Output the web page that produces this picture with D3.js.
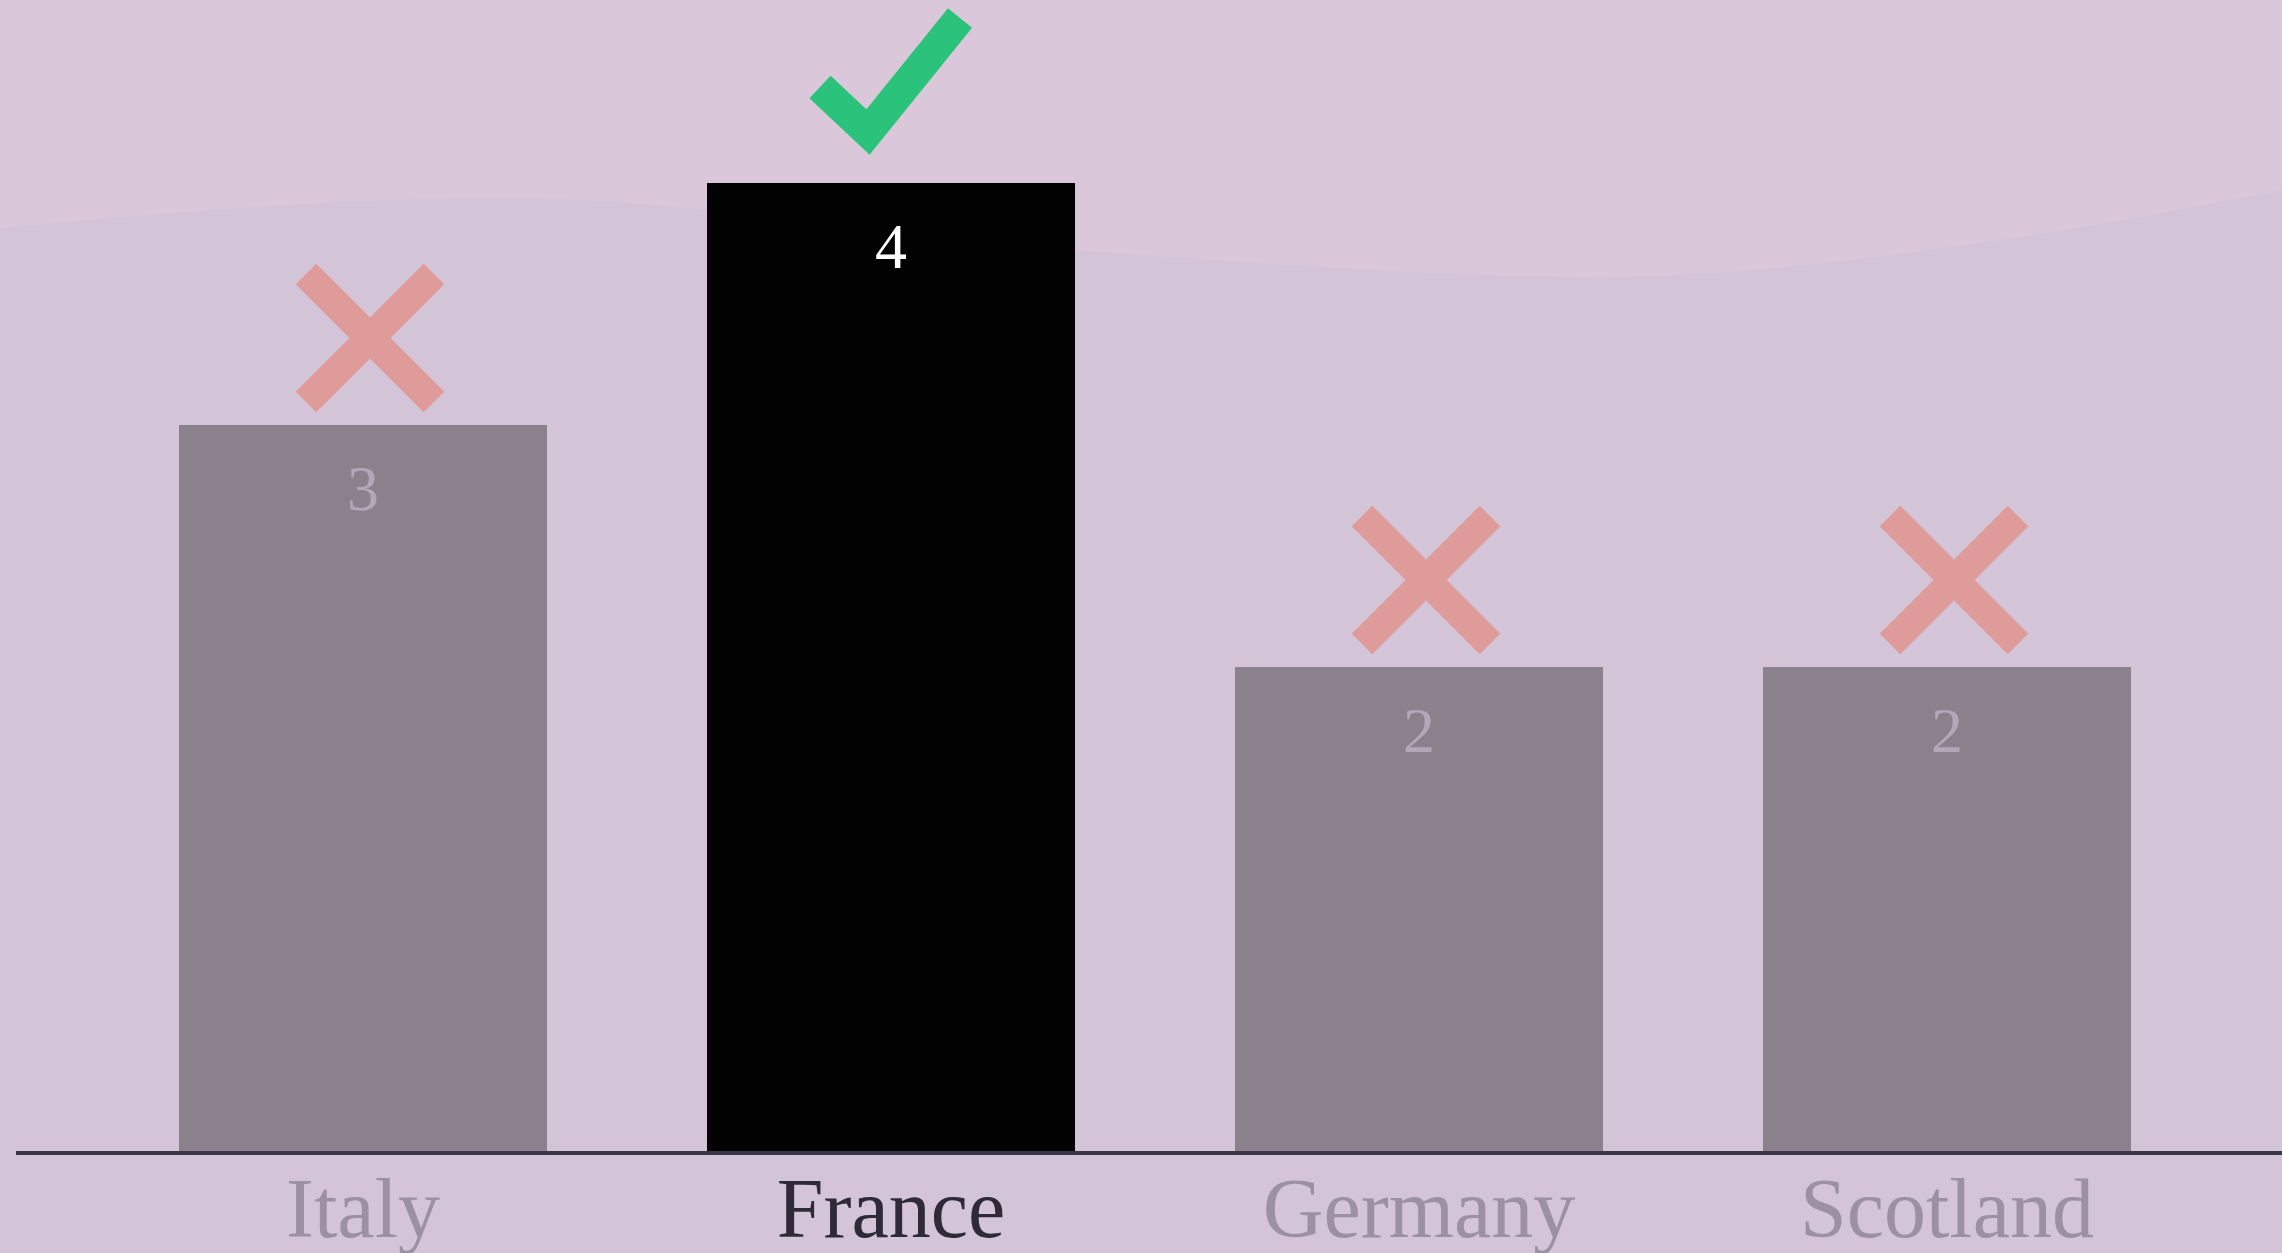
<!DOCTYPE html>
<html>
<head>
<meta charset="utf-8">
<script src="https://cdn.jsdelivr.net/npm/d3@7"></script>
<style>
  html, body { margin: 0; padding: 0; background: #d4c4d7; }
  svg { display: block; }
</style>
</head>
<body>
<svg id="chart" width="2282" height="1253"></svg>
<script>
const categories = ["Italy", "France", "Germany", "Scotland"];
const values = [3, 4, 2, 2];
const winners = ["France"];
const yDomain = [0, 4];

const W = 2282, H = 1253;
const svg = d3.select("#chart");

// background with subtle wave
svg.append("rect").attr("width", W).attr("height", H).attr("fill", "#d4c4d7");
const wavePts = [[0, 0], [0, 228], [500, 198], [1100, 252], [1600, 278], [2000, 245], [2282, 190], [2282, 0]];
const topPath = d3.line().curve(d3.curveBasis);
svg.append("path")
  .attr("d", "M0,0 L0,228 " + d3.line().curve(d3.curveMonotoneX)([[0,228],[500,198],[1100,252],[1600,277],[2000,240],[2282,190]]).slice(1).replace(/^[^C]*/, m => "L" + m) + " L2282,0 Z")
  .attr("fill", "#dac8da");

const x = d3.scaleBand()
  .domain(categories)
  .range([99, 2211])
  .paddingInner(0.303)
  .paddingOuter(0.1515);

const y = d3.scaleLinear().domain(yDomain).range([1151, 183]);

const bw = x.bandwidth();
const g = svg.append("g");

// bars
g.selectAll("rect.bar")
  .data(categories)
  .join("rect")
  .attr("class", "bar")
  .attr("x", d => x(d))
  .attr("y", (d, i) => y(values[i]))
  .attr("width", bw)
  .attr("height", (d, i) => y(0) - y(values[i]))
  .attr("fill", d => winners.includes(d) ? "#030203" : "#8b818d");

// value labels
g.selectAll("text.val")
  .data(categories)
  .join("text")
  .attr("class", "val")
  .attr("x", d => x(d) + bw / 2)
  .attr("y", (d, i) => y(values[i]) + 85)
  .attr("text-anchor", "middle")
  .attr("font-family", "'Liberation Serif', 'DejaVu Serif', serif")
  .attr("font-size", 64)
  .attr("fill", d => winners.includes(d) ? "#ffffff" : "#b3a8b7")
  .text((d, i) => values[i]);

// cross markers
const crossHalf = 64;
const losers = categories.map((c, i) => ({ c, v: values[i] })).filter(d => !winners.includes(d.c));
const crossG = g.selectAll("g.cross")
  .data(losers)
  .join("g")
  .attr("class", "cross")
  .attr("transform", d => `translate(${x(d.c) + bw / 2 + 7},${y(d.v) - 87})`);
crossG.append("path")
  .attr("d", d3.line()([[-crossHalf, -crossHalf], [crossHalf, crossHalf]]))
  .attr("stroke", "#df9a9a").attr("stroke-width", 29).attr("fill", "none");
crossG.append("path")
  .attr("d", d3.line()([[crossHalf, -crossHalf], [-crossHalf, crossHalf]]))
  .attr("stroke", "#df9a9a").attr("stroke-width", 29).attr("fill", "none");

// check markers
const winData = categories.map((c, i) => ({ c, v: values[i] })).filter(d => winners.includes(d.c));
g.selectAll("path.check")
  .data(winData)
  .join("path")
  .attr("class", "check")
  .attr("transform", d => `translate(${x(d.c) + bw / 2},${y(d.v)})`)
  .attr("d", d3.line()([[-71, -96], [-23, -51], [69, -165]]))
  .attr("fill", "none")
  .attr("stroke", "#2bc27b")
  .attr("stroke-width", 31)
  .attr("stroke-linejoin", "miter");

// axis baseline
svg.append("line")
  .attr("x1", 16).attr("x2", W)
  .attr("y1", y(0) + 2).attr("y2", y(0) + 2)
  .attr("stroke", "#3b3545").attr("stroke-width", 4);

// category axis
const axis = svg.append("g")
  .attr("transform", `translate(0,${y(0)})`)
  .call(d3.axisBottom(x).tickSize(0).tickPadding(0));
axis.select(".domain").remove();
axis.selectAll("text")
  .attr("y", 86)
  .attr("dy", 0)
  .attr("font-family", "'Liberation Serif', 'DejaVu Serif', serif")
  .attr("font-size", 84)
  .attr("fill", d => winners.includes(d) ? "#2e2a37" : "#9c91a2");
</script>
</body>
</html>
